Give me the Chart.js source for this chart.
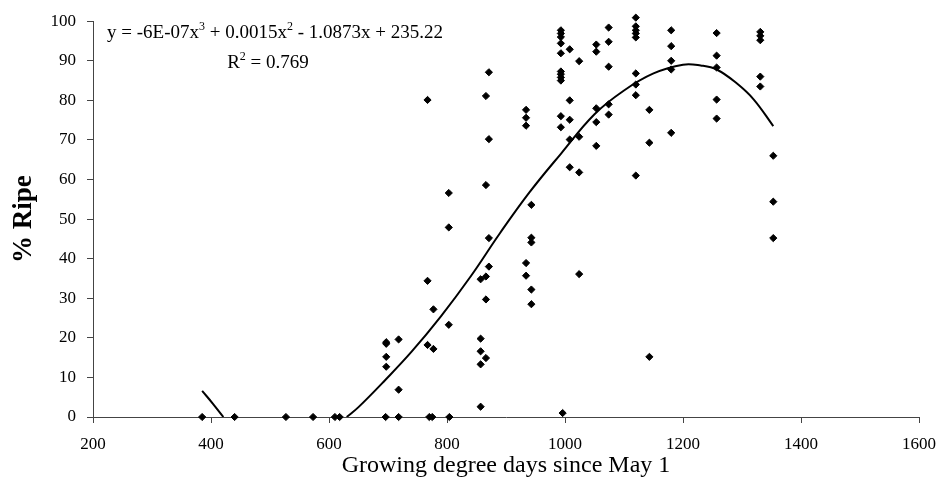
<!DOCTYPE html>
<html>
<head>
<meta charset="utf-8">
<script src="https://cdn.jsdelivr.net/npm/chart.js@4.4.1/dist/chart.umd.min.js"></script>
<style>
  html, body { margin: 0; padding: 0; background: #fff; }
</style>
</head>
<body>
<canvas id="chart" width="947" height="502"></canvas>
<script>
const gddDays = [
  385, 440, 527, 573, 610, 618,
  696, 697, 697, 697, 697,
  718, 718, 718,
  767, 767, 767, 770,
  777, 777, 775,
  803, 803, 803, 804,
  857, 857, 857, 857, 857,
  866, 866, 866, 866, 866,
  871, 871, 871, 871,
  934, 934, 934, 934, 934,
  943, 943, 943, 943, 943,
  993, 993, 993, 993, 993, 993, 993, 993, 993, 993, 993, 996,
  1008, 1008, 1008, 1008, 1008,
  1024, 1024, 1024, 1024,
  1053, 1053, 1053, 1053, 1053,
  1074, 1074, 1074, 1074, 1074,
  1120, 1120, 1120, 1120, 1120, 1120, 1120, 1120, 1120,
  1143, 1143, 1143,
  1180, 1180, 1180, 1180, 1180,
  1257, 1257, 1257, 1257, 1257,
  1331, 1331, 1331, 1331, 1331,
  1353, 1353, 1353, 1353
];
const pctRipe = [
  0, 0, 0, 0, 0, 0,
  0, 18.9, 18.5, 15.2, 12.7,
  0, 19.6, 6.9,
  80.1, 34.4, 18.2, 0,
  27.2, 17.2, 0,
  56.6, 47.9, 23.3, 0,
  34.8, 19.8, 16.6, 13.3, 2.6,
  81.1, 58.6, 35.5, 29.7, 14.9,
  87.1, 70.2, 45.2, 38.0,
  77.6, 75.6, 73.6, 38.9, 35.7,
  53.6, 45.3, 44.1, 32.2, 28.5,
  97.7, 96.9, 96.0, 94.4, 91.9, 87.3, 86.6, 85.8, 85.0, 76.0, 73.2, 1.0,
  92.9, 80.0, 75.1, 70.1, 63.1,
  89.9, 70.8, 61.8, 36.1,
  94.1, 92.3, 78.0, 74.5, 68.5,
  98.4, 94.8, 88.5, 79.0, 76.4,
  100.9, 98.7, 97.7, 96.9, 95.9, 86.8, 84.0, 81.3, 61.0,
  77.6, 69.3, 15.2,
  97.7, 93.7, 90.0, 87.8, 71.8,
  97.0, 91.3, 88.3, 80.2, 75.4,
  97.3, 96.3, 95.2, 86.0, 83.5,
  101.5, 66.0, 54.4, 45.2
];

// polynomial trendline as drawn (null = part hidden below 0)
const trendGdd = [385, 403, 421, 525, 630, 650, 695, 740, 790, 840, 890, 940, 993,
  1050, 1100, 1150, 1200, 1230, 1257, 1291, 1320, 1353];
const trendRipe = [6.6, 3.4, 0, null, 0, 2.5, 9.3, 16.5, 25.5, 35.5, 46.5, 56.8, 66.5,
  76.5, 82.5, 86.8, 89.0, 88.8, 87.8, 84.3, 80.2, 73.5];

const xTicks = [200, 400, 600, 800, 1000, 1200, 1400, 1600];
const yTicks = [0, 10, 20, 30, 40, 50, 60, 70, 80, 90, 100];

const eqParts = [["y = -6E-07x"], ["3", true], [" + 0.0015x"], ["2", true], [" - 1.0873x + 235.22"]];
const r2Parts = [["R"], ["2", true], [" = 0.769"]];

const serif = "'Liberation Serif', 'Times New Roman', serif";

function partsWidth(ctx, parts, size) {
  let w = 0;
  parts.forEach(function (p) {
    ctx.font = (p[1] === true ? Math.round(size * 0.62) : size) + "px " + serif;
    w += ctx.measureText(p[0]).width;
  });
  return w;
}

// draws a line of text centred on cx, with superscript pieces
function drawParts(ctx, parts, cx, y, size) {
  let x = cx - partsWidth(ctx, parts, size) / 2;
  parts.forEach(function (p) {
    const sup = p[1] === true;
    ctx.font = (sup ? Math.round(size * 0.62) : size) + "px " + serif;
    ctx.fillText(p[0], x, sup ? y - size * 0.4 : y);
    x += ctx.measureText(p[0]).width;
  });
}

// equation + R² text in the top-left corner
const trendLabel = {
  id: "trendLabel",
  afterDraw(chart) {
    const ctx = chart.ctx;
    ctx.save();
    ctx.fillStyle = "#000";
    ctx.textBaseline = "alphabetic";
    ctx.textAlign = "left";
    drawParts(ctx, eqParts, 275, 38, 19);
    drawParts(ctx, r2Parts, 268, 68, 19);
    ctx.restore();
  }
};

const ctx = document.getElementById("chart").getContext("2d");
new Chart(ctx, {
  type: "scatter",
  data: {
    datasets: [
      {
        label: "% Ripe",
        data: gddDays.map((x, i) => ({ x: x, y: pctRipe[i] })),
        pointStyle: "rectRot",
        pointRadius: 3.6,
        backgroundColor: "#000",
        borderColor: "#000",
        borderWidth: 1,
        clip: false,
        order: 1
      },
      {
        type: "line",
        label: "Trend",
        data: trendGdd.map((x, i) => ({ x: x, y: trendRipe[i] })),
        borderColor: "#000",
        borderWidth: 2,
        pointRadius: 0,
        tension: 0.4,
        spanGaps: false,
        fill: false,
        order: 0
      }
    ]
  },
  options: {
    responsive: false,
    animation: false,
    devicePixelRatio: 1,
    layout: { padding: { left: 0, right: 24, top: 17, bottom: 0 } },
    plugins: {
      legend: { display: false },
      tooltip: { enabled: false }
    },
    scales: {
      x: {
        type: "linear",
        min: 200,
        max: 1600,
        afterBuildTicks: (s) => { s.ticks = xTicks.map(v => ({ value: v })); },
        afterFit: (s) => { s.height = 85; },
        ticks: {
          color: "#000",
          padding: 11,
          font: { family: serif, size: 17 },
          callback: (v) => String(v)
        },
        grid: { drawOnChartArea: false, tickLength: 6, color: "#444" },
        border: { color: "#444", width: 1 },
        title: {
          display: true,
          text: "Growing degree days since May 1",
          color: "#000",
          font: { family: serif, size: 24 },
          padding: { top: 0, bottom: 22 }
        }
      },
      y: {
        min: 0,
        max: 100,
        afterBuildTicks: (s) => { s.ticks = yTicks.map(v => ({ value: v })); },
        afterFit: (s) => { s.width = 93; },
        ticks: {
          color: "#000",
          padding: 11,
          font: { family: serif, size: 17 },
          callback: (v) => String(v)
        },
        grid: { drawOnChartArea: false, tickLength: 6, color: "#444" },
        border: { color: "#444", width: 1 },
        title: {
          display: true,
          text: "% Ripe",
          color: "#000",
          font: { family: serif, size: 27, weight: "bold" },
          padding: { top: 8, bottom: 0 }
        }
      }
    }
  },
  plugins: [trendLabel]
});
</script>
</body>
</html>
